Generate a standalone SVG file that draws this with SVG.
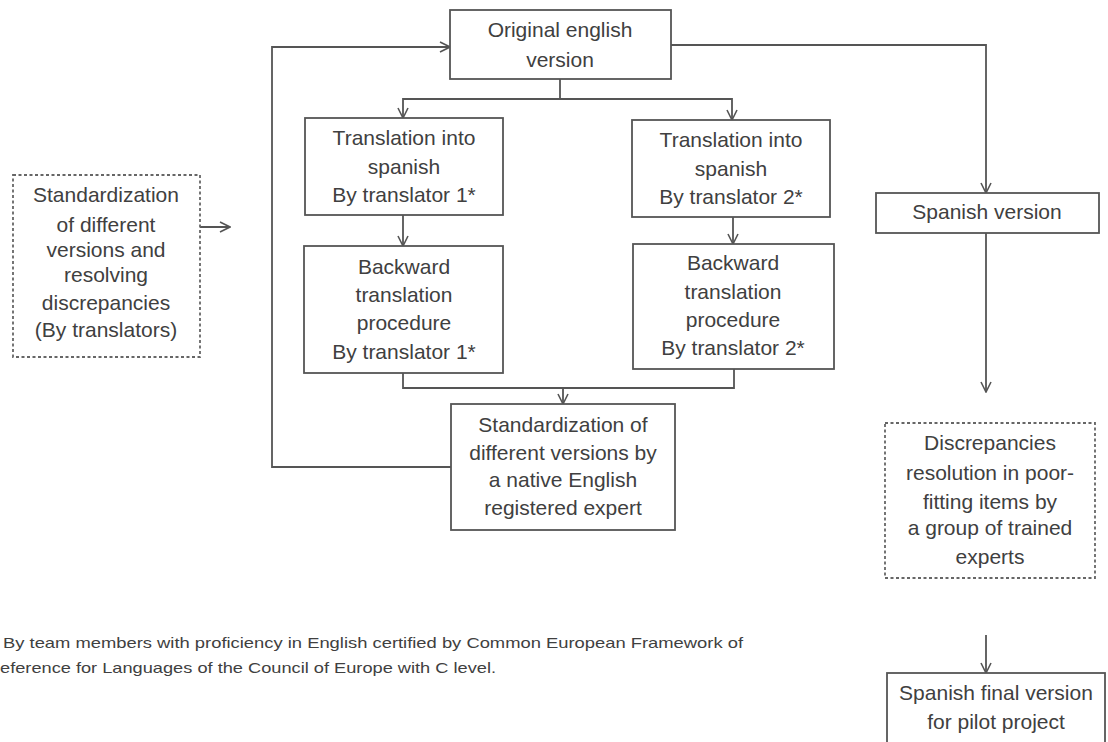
<svg xmlns="http://www.w3.org/2000/svg" width="1108" height="742" viewBox="0 0 1108 742">
<style>
.box{fill:#fff;stroke:#555;stroke-width:1.8}
.dash{fill:#fff;stroke:#666;stroke-width:1.8;stroke-dasharray:3 2.5}
.t{font-family:"Liberation Sans",Arial,sans-serif;font-size:21px;fill:#404040;text-anchor:middle}
.fn{font-family:"Liberation Sans",Arial,sans-serif;font-size:15px;fill:#404040}
.c{fill:none;stroke:#555;stroke-width:1.8}
</style>
<defs>
<marker id="ah" viewBox="0 0 12 12" refX="11" refY="6" markerWidth="12" markerHeight="12" markerUnits="userSpaceOnUse" orient="auto">
<path d="M1,1 L11,6 L1,11" fill="none" stroke="#555" stroke-width="1.6"/>
</marker>
</defs>
<rect width="1108" height="742" fill="#fff"/>
<g id="connectors">
<path class="c" d="M451,467 H272 V47 H450" marker-end="url(#ah)"/>
<path class="c" d="M560,79 V99 H403 V118" marker-end="url(#ah)"/>
<path class="c" d="M560,99 H732 V120" marker-end="url(#ah)"/>
<path class="c" d="M403,215 V246" marker-end="url(#ah)"/>
<path class="c" d="M733,217 V244" marker-end="url(#ah)"/>
<path class="c" d="M403,373 V388 H734 V369"/>
<path class="c" d="M563,388 V404" marker-end="url(#ah)"/>
<path class="c" d="M671,45 H986 V193" marker-end="url(#ah)"/>
<path class="c" d="M986,233 V392" marker-end="url(#ah)"/>
<path class="c" d="M986,635 V673" marker-end="url(#ah)"/>
<path class="c" d="M196,227 H230" marker-end="url(#ah)"/>
</g>
<g id="original">
<rect class="box" x="450" y="10" width="221" height="69"/>
<text class="t" x="560" y="37">Original english</text>
<text class="t" x="560" y="67">version</text>
</g>
<g id="trans1">
<rect class="box" x="305" y="118" width="198" height="97"/>
<text class="t" x="404" y="145">Translation into</text>
<text class="t" x="404" y="174">spanish</text>
<text class="t" x="404" y="202">By translator 1*</text>
</g>
<g id="back1">
<rect class="box" x="304" y="246" width="199" height="127"/>
<text class="t" x="404" y="274">Backward</text>
<text class="t" x="404" y="302">translation</text>
<text class="t" x="404" y="330">procedure</text>
<text class="t" x="404" y="359">By translator 1*</text>
</g>
<g id="trans2">
<rect class="box" x="632" y="120" width="198" height="97"/>
<text class="t" x="731" y="147">Translation into</text>
<text class="t" x="731" y="176">spanish</text>
<text class="t" x="731" y="204">By translator 2*</text>
</g>
<g id="back2">
<rect class="box" x="633" y="244" width="201" height="125"/>
<text class="t" x="733" y="270">Backward</text>
<text class="t" x="733" y="299">translation</text>
<text class="t" x="733" y="327">procedure</text>
<text class="t" x="733" y="355">By translator 2*</text>
</g>
<g id="standard">
<rect class="box" x="451" y="404" width="224" height="126"/>
<text class="t" x="563" y="432">Standardization of</text>
<text class="t" x="563" y="460">different versions by</text>
<text class="t" x="563" y="487">a native English</text>
<text class="t" x="563" y="515">registered expert</text>
</g>
<g id="standard-translators">
<rect class="dash" x="13" y="175" width="187" height="182"/>
<text class="t" x="106" y="202">Standardization</text>
<text class="t" x="106" y="232">of different</text>
<text class="t" x="106" y="257">versions and</text>
<text class="t" x="106" y="282">resolving</text>
<text class="t" x="106" y="310">discrepancies</text>
<text class="t" x="106" y="337">(By translators)</text>
</g>
<g id="spanish">
<rect class="box" x="876" y="193" width="223" height="40"/>
<text class="t" x="987" y="219">Spanish version</text>
</g>
<g id="discrepancies">
<rect class="dash" x="885" y="423" width="210" height="155"/>
<text class="t" x="990" y="450">Discrepancies</text>
<text class="t" x="990" y="480">resolution in poor-</text>
<text class="t" x="990" y="509">fitting items by</text>
<text class="t" x="990" y="535">a group of trained</text>
<text class="t" x="990" y="564">experts</text>
</g>
<g id="final">
<rect class="box" x="887" y="673" width="218" height="80"/>
<text class="t" x="996" y="700">Spanish final version</text>
<text class="t" x="996" y="729">for pilot project</text>
</g>
<g id="footnote">
<text class="fn" x="3" y="648" textLength="740" lengthAdjust="spacingAndGlyphs">By team members  with proficiency in English certified by Common  European Framework  of</text>
<text class="fn" x="0" y="673" textLength="496" lengthAdjust="spacingAndGlyphs">eference for Languages of the Council of Europe with C level.</text>
</g>
</svg>
